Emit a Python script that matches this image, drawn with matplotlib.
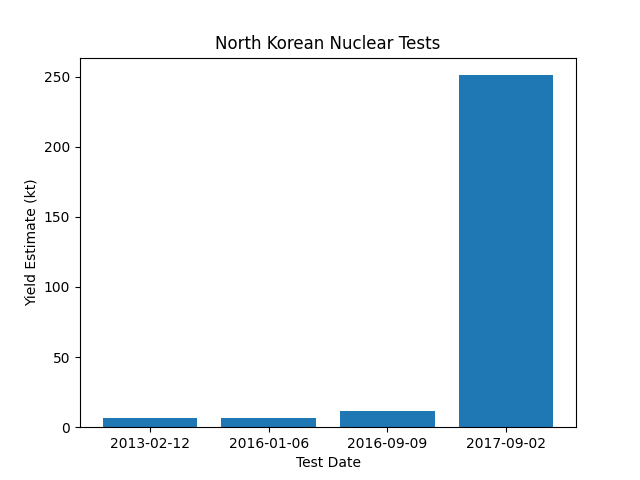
import matplotlib
matplotlib.use("Agg")
import matplotlib.pyplot as plt

test_dates = ["2013-02-12", "2016-01-06", "2016-09-09", "2017-09-02"]
yields_kt = [6.5, 6.5, 11.5, 251]

fig, ax = plt.subplots(figsize=(6.4, 4.8), dpi=100)
ax.bar(test_dates, yields_kt, color="#1f77b4")
ax.set_title("North Korean Nuclear Tests")
ax.set_xlabel("Test Date")
ax.set_ylabel("Yield Estimate (kt)")
fig.savefig("out.png")
